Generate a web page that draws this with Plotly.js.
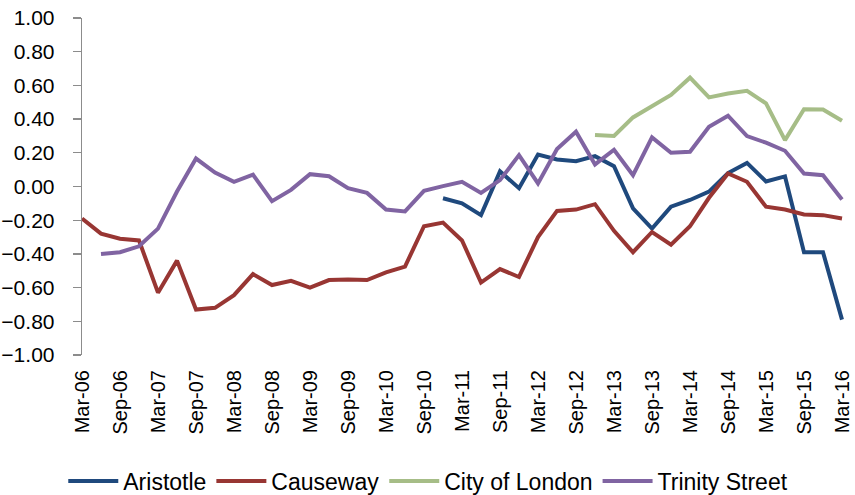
<!DOCTYPE html>
<html>
<head>
<meta charset="utf-8">
<script src="https://cdn.plot.ly/plotly-3.0.1.min.js"></script>
<style>
  html, body { margin: 0; padding: 0; background: #fff; }
  #chart { width: 855px; height: 495px; }
</style>
</head>
<body>
<div id="chart"></div>
<script>
const quarters = [
    'Mar-06', 'Jun-06', 'Sep-06', 'Dec-06',
    'Mar-07', 'Jun-07', 'Sep-07', 'Dec-07',
    'Mar-08', 'Jun-08', 'Sep-08', 'Dec-08',
    'Mar-09', 'Jun-09', 'Sep-09', 'Dec-09',
    'Mar-10', 'Jun-10', 'Sep-10', 'Dec-10',
    'Mar-11', 'Jun-11', 'Sep-11', 'Dec-11',
    'Mar-12', 'Jun-12', 'Sep-12', 'Dec-12',
    'Mar-13', 'Jun-13', 'Sep-13', 'Dec-13',
    'Mar-14', 'Jun-14', 'Sep-14', 'Dec-14',
    'Mar-15', 'Jun-15', 'Sep-15', 'Dec-15',
    'Mar-16'
];

// labelled every half year
const tickLabels = [
    'Mar-06', 'Sep-06', 'Mar-07', 'Sep-07', 'Mar-08', 'Sep-08', 'Mar-09',
    'Sep-09', 'Mar-10', 'Sep-10', 'Mar-11', 'Sep-11', 'Mar-12', 'Sep-12',
    'Mar-13', 'Sep-13', 'Mar-14', 'Sep-14', 'Mar-15', 'Sep-15', 'Mar-16'
];

const aristotle = [
    null, null, null, null, null, null, null, null, null, null,
    null, null, null, null, null, null, null, null, null,
    -0.07, -0.10, -0.17, 0.09, -0.01, 0.19, 0.16, 0.15, 0.18, 0.12,
    -0.13, -0.25, -0.12, -0.08, -0.03, 0.08, 0.14, 0.03, 0.06,
    -0.39, -0.39, -0.79
];

const causeway = [
    -0.19, -0.28, -0.31, -0.32, -0.63, -0.44, -0.73, -0.72, -0.645, -0.52,
    -0.585, -0.56, -0.60, -0.555, -0.552, -0.555, -0.51, -0.475, -0.236, -0.214,
    -0.32, -0.57, -0.49, -0.537, -0.30, -0.145, -0.137, -0.105, -0.263, -0.39,
    -0.27, -0.345, -0.236, -0.067, 0.077, 0.028, -0.12, -0.137, -0.166, -0.17,
    -0.19
];

const cityOfLondon = [
    null, null, null, null, null, null, null, null, null, null,
    null, null, null, null, null, null, null, null, null, null,
    null, null, null, null, null, null, null,
    0.305, 0.30, 0.41, 0.477, 0.543, 0.646, 0.529, 0.552, 0.568, 0.493,
    0.275, 0.459, 0.457, 0.39
];

const trinityStreet = [
    null, -0.40, -0.39, -0.355, -0.25, -0.03, 0.166, 0.083, 0.028, 0.07,
    -0.087, -0.02, 0.073, 0.061, -0.01, -0.038, -0.137, -0.148, -0.026, 0.002,
    0.028, -0.038, 0.038, 0.186, 0.018, 0.222, 0.325, 0.131, 0.218, 0.067,
    0.291, 0.20, 0.206, 0.354, 0.42, 0.299, 0.26, 0.212, 0.077, 0.067,
    -0.077
];

const AXIS_GREY = '#8c8c8c';
const FONT = 'Liberation Sans, Arial, sans-serif';

function line(name, values, color) {
    return {
        x: quarters, y: values, name: name,
        type: 'scatter', mode: 'lines',
        line: { color: color, width: 4 },
        connectgaps: false, hoverinfo: 'skip'
    };
}

const traces = [
    line('Aristotle', aristotle, '#1f497d'),
    line('Causeway', causeway, '#983633'),
    line('City of London', cityOfLondon, '#a6bd87'),
    line('Trinity Street', trinityStreet, '#8064a2')
];

const xEnd = quarters.length - 1 + 4 / 19;

const layout = {
    width: 855, height: 495,
    margin: { t: 18, r: 9, b: 140, l: 82 },
    paper_bgcolor: '#fff',
    plot_bgcolor: '#fff',
    font: { family: FONT, color: '#000' },
    showlegend: true,
    legend: {
        orientation: 'h',
        xref: 'container', yref: 'container',
        x: 0.074, xanchor: 'left',
        y: 0.028, yanchor: 'middle',
        font: { family: FONT, size: 23, color: '#000' },
        itemwidth: 50,
        traceorder: 'normal'
    },
    xaxis: {
        type: 'category',
        range: [0, xEnd],
        tickmode: 'array',
        tickvals: tickLabels,
        ticktext: tickLabels,
        tickangle: -90,
        ticks: '',
        showline: false,
        showgrid: false,
        zeroline: false,
        ticklabelstandoff: 10,
        tickfont: { family: FONT, size: 20, color: '#000' }
    },
    // horizontal axis line with ticks, drawn where y = 0
    xaxis2: {
        overlaying: 'x',
        anchor: 'free',
        position: 0.5,
        range: [0, xEnd],
        tickmode: 'array',
        tickvals: tickLabels.map((t) => quarters.indexOf(t)),
        ticks: 'outside',
        ticklen: 7,
        tickcolor: AXIS_GREY,
        tickwidth: 1.3,
        showticklabels: false,
        showline: true,
        linecolor: AXIS_GREY,
        linewidth: 1.3,
        showgrid: false,
        zeroline: false
    },
    yaxis: {
        range: [-1, 1],
        dtick: 0.2,
        tick0: -1,
        tickformat: '.2f',
        ticks: 'outside',
        ticklen: 8,
        tickcolor: AXIS_GREY,
        tickwidth: 1.3,
        showline: true,
        linecolor: AXIS_GREY,
        linewidth: 1.3,
        showgrid: false,
        zeroline: false,
        ticklabelstandoff: 14,
        tickfont: { family: FONT, size: 21, color: '#000' }
    }
};

Plotly.newPlot('chart', traces, layout, { displayModeBar: false, staticPlot: true });
</script>
</body>
</html>
